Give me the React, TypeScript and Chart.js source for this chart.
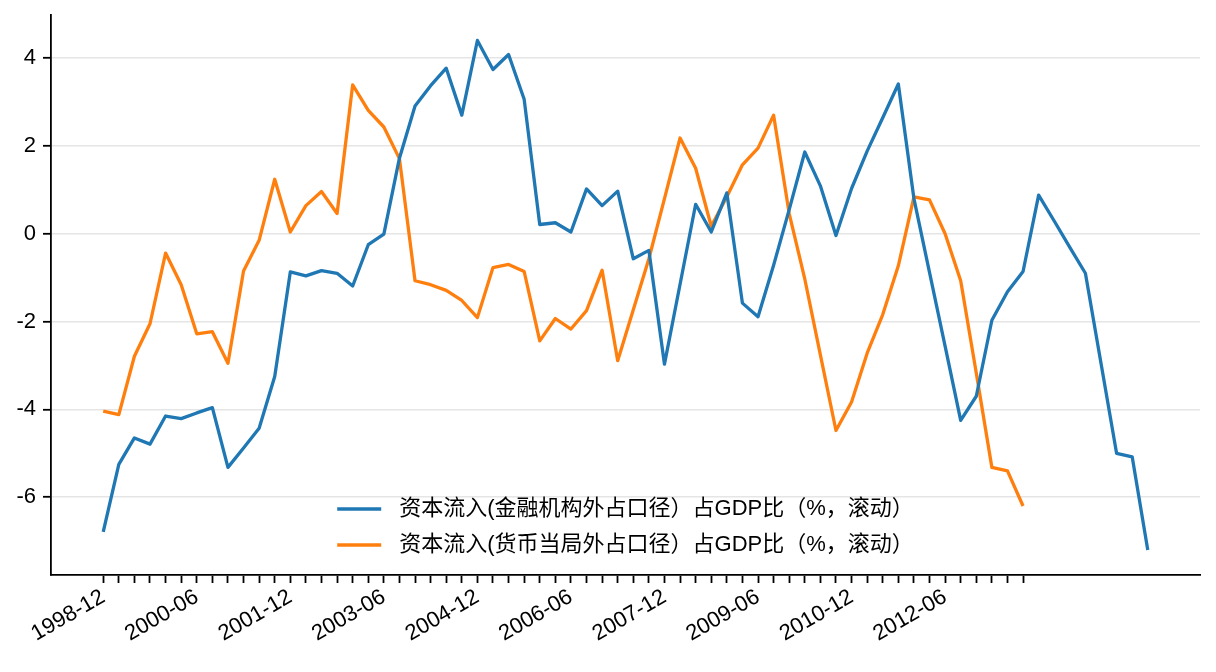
import { useEffect, useRef } from "react"
import { Chart, registerables, type ChartConfiguration, type Plugin } from "chart.js"

Chart.register(...registerables)

// quarterly, starting 1998-12; a label every 6 quarters
const tickLabels = [
  "1998-12", "2000-06", "2001-12", "2003-06", "2004-12",
  "2006-06", "2007-12", "2009-06", "2010-12", "2012-06",
]
const labelStep = 6

const seriesNames = [
  "资本流入(金融机构外占口径）占GDP比（%，滚动）",
  "资本流入(货币当局外占口径）占GDP比（%，滚动）",
]
const seriesColors = ["#1f77b4", "#ff7f0e"]

// 金融机构外占口径
const institutionValues = [
  -6.79, -5.25, -4.65, -4.79, -4.15, -4.21, -4.08, -3.96, -5.32, -4.88,
  -4.43, -3.25, -0.87, -0.96, -0.84, -0.9, -1.19, -0.25, -0.01, 1.72,
  2.91, 3.37, 3.77, 2.7, 4.4, 3.74, 4.08, 3.06, 0.21, 0.25,
  0.04, 1.02, 0.64, 0.97, -0.57, -0.38, -2.97, -1.15, 0.67, 0.04,
  0.93, -1.58, -1.89, -0.72, 0.55, 1.86, 1.09, -0.04, 1.03, 1.88,
  2.64, 3.41, 0.8, -0.88, -2.56, -4.25, -3.7, -1.97, -1.32, -0.86,
  0.88, 0.29, -0.31, -0.9, -2.95, -5.0, -5.08, -7.2,
]

// 货币当局外占口径
const monetaryValues = [
  -4.04, -4.12, -2.79, -2.05, -0.44, -1.16, -2.28, -2.23, -2.95, -0.85,
  -0.15, 1.24, 0.04, 0.64, 0.96, 0.46, 3.39, 2.81, 2.43, 1.71,
  -1.07, -1.16, -1.29, -1.52, -1.91, -0.77, -0.7, -0.86, -2.44, -1.93,
  -2.17, -1.75, -0.83, -2.89, -1.73, -0.57, 0.8, 2.18, 1.49, 0.17,
  0.84, 1.57, 1.95, 2.7, 0.46, -1.03, -2.76, -4.48, -3.83, -2.72,
  -1.84, -0.73, 0.84, 0.77, 0.0, -1.07, -3.17, -5.32, -5.4, -6.2,
]

const yTicks = [-6, -4, -2, 0, 2, 4]

const tickFont = { family: "'Liberation Sans', Arial, sans-serif", size: 22 }
const legendFont = "22px 'Liberation Sans', 'Noto Sans CJK SC', sans-serif"

const toPoints = (values: number[]) => values.map((y, x) => ({ x, y }))

// matplotlib-style legend, lower centre of the plot area, no frame
const lowerLegend: Plugin<"line"> = {
  id: "lowerLegend",
  afterDraw(chart) {
    const { ctx, chartArea } = chart
    const datasets = chart.data.datasets
    ctx.save()
    ctx.font = legendFont
    const textWidth = Math.max(...datasets.map((d) => ctx.measureText(d.label ?? "").width))
    const handle = 44
    const gap = 18
    const rowHeight = 36
    const x0 = (chartArea.left + chartArea.right) / 2 - (handle + gap + textWidth) / 2
    datasets.forEach((ds, i) => {
      const y = chartArea.bottom - 30 - (datasets.length - 1 - i) * rowHeight
      ctx.strokeStyle = ds.borderColor as string
      ctx.lineWidth = 3.3
      ctx.beginPath()
      ctx.moveTo(x0, y)
      ctx.lineTo(x0 + handle, y)
      ctx.stroke()
      ctx.fillStyle = "#000"
      ctx.textAlign = "left"
      ctx.textBaseline = "middle"
      ctx.fillText(ds.label ?? "", x0 + handle + gap, y)
    })
    ctx.restore()
  },
}

export default function App() {
  const canvasRef = useRef<HTMLCanvasElement>(null)
  const chartRef = useRef<Chart | null>(null)

  useEffect(() => {
    if (!canvasRef.current) return
    if (chartRef.current) chartRef.current.destroy()

    const tickCount = monetaryValues.length
    const lastIndex = institutionValues.length - 1
    const xMargin = lastIndex * 0.05

    const config: ChartConfiguration<"line"> = {
      type: "line",
      data: {
        datasets: [
          {
            label: seriesNames[0],
            data: toPoints(institutionValues),
            borderColor: seriesColors[0],
            borderWidth: 3.3,
            pointRadius: 0,
            borderJoinStyle: "round",
            fill: false,
          },
          {
            label: seriesNames[1],
            data: toPoints(monetaryValues),
            borderColor: seriesColors[1],
            borderWidth: 3.3,
            pointRadius: 0,
            borderJoinStyle: "round",
            fill: false,
          },
        ],
      },
      options: {
        responsive: false,
        animation: false,
        layout: { padding: { top: 15, right: 16, left: 0, bottom: 0 } },
        plugins: {
          legend: { display: false },
          tooltip: { enabled: false },
        },
        scales: {
          x: {
            type: "linear",
            min: -xMargin,
            max: lastIndex + xMargin,
            afterBuildTicks: (scale) => {
              scale.ticks = Array.from({ length: tickCount }, (_, i) => ({ value: i }))
            },
            afterFit: (scale) => {
              scale.height = 97
              scale.paddingLeft = 0
              scale.paddingRight = 0
            },
            ticks: {
              autoSkip: false,
              minRotation: 30,
              maxRotation: 30,
              padding: 1,
              color: "#000",
              font: tickFont,
              callback: (value) => {
                const v = Number(value)
                return v % labelStep === 0 ? tickLabels[v / labelStep] ?? "" : ""
              },
            },
            grid: {
              drawOnChartArea: false,
              tickLength: 8,
              tickColor: "#000",
              tickWidth: 1.8,
            },
            border: { color: "#000", width: 1.8 },
          },
          y: {
            min: -7.77,
            max: 4.98,
            afterBuildTicks: (scale) => {
              scale.ticks = yTicks.map((value) => ({ value }))
            },
            afterFit: (scale) => {
              scale.width = 51
              scale.paddingTop = 0
              scale.paddingBottom = 0
            },
            ticks: {
              padding: 7,
              color: "#000",
              font: tickFont,
              callback: (value) => String(value),
            },
            grid: {
              color: "#e5e5e5",
              lineWidth: 1.6,
              tickLength: 8,
              tickColor: "#000",
              tickWidth: 1.8,
            },
            border: { color: "#000", width: 1.8 },
          },
        },
      },
      plugins: [lowerLegend],
    }

    chartRef.current = new Chart(canvasRef.current, config)

    return () => {
      if (chartRef.current) {
        chartRef.current.destroy()
        chartRef.current = null
      }
    }
  }, [])

  return (
    <div style={{ position: "fixed", left: 0, top: 0, width: 1216, height: 672, background: "#fff" }}>
      <canvas ref={canvasRef} width={1216} height={672} />
    </div>
  )
}
